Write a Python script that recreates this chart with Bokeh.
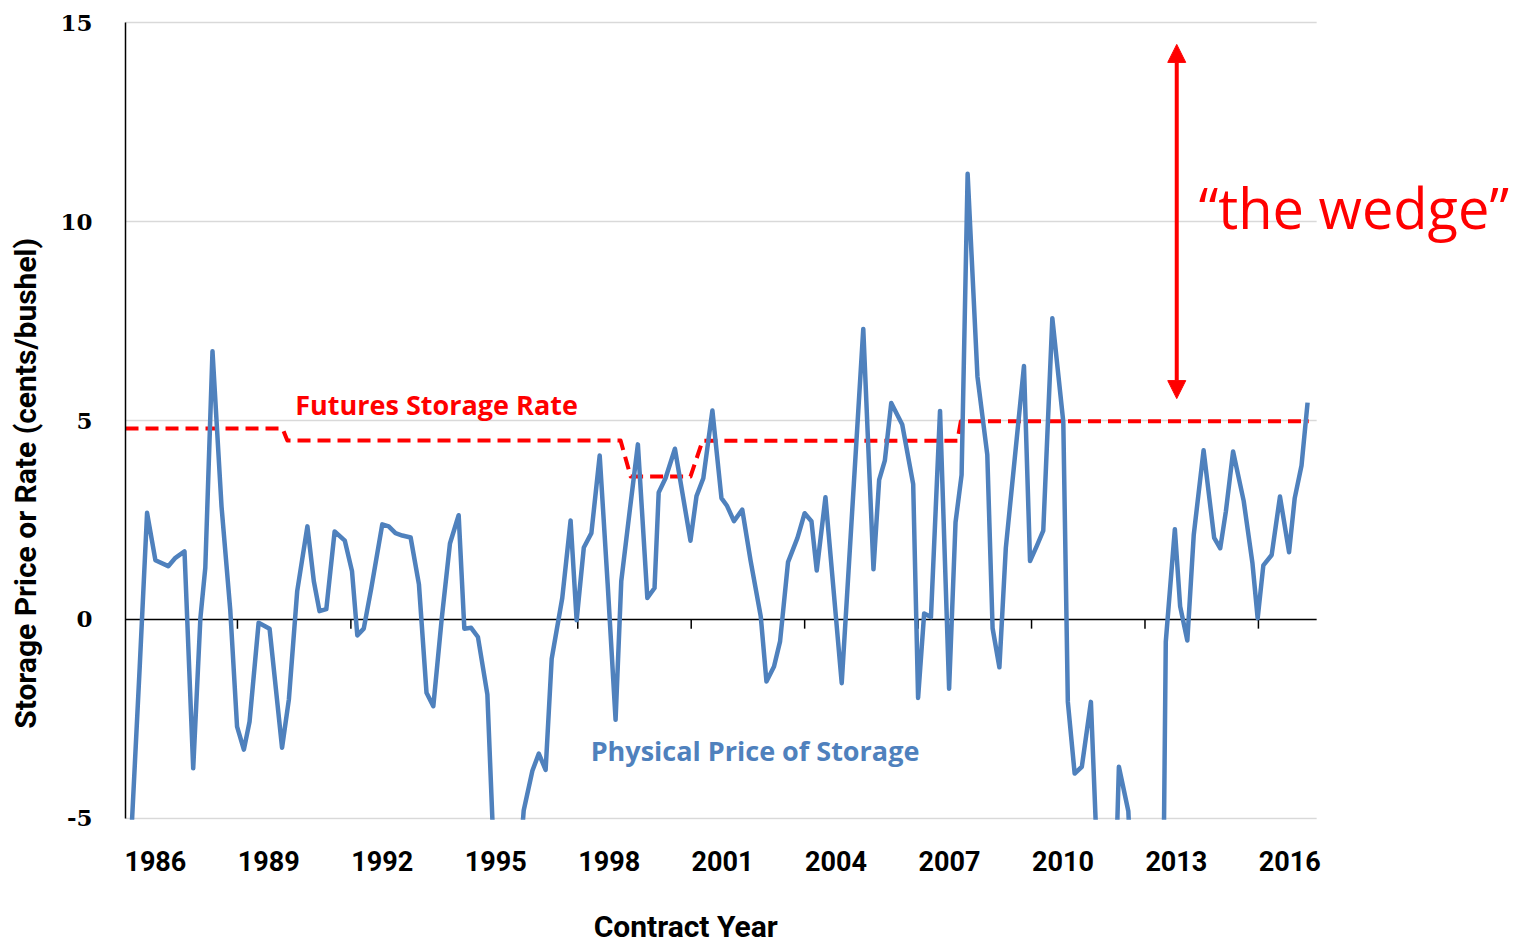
import math
from bokeh.plotting import figure
from bokeh.models import Range1d, FixedTicker, Label, Arrow, NormalHead, PrintfTickFormatter, BoxAnnotation
from bokeh.embed import file_html
from bokeh.resources import INLINE

# ---------------- data ----------------
phys_year = [1985.30, 1985.58, 1985.78, 1986.00, 1986.34, 1986.53, 1986.77, 1987.00, 1987.19, 1987.32,
             1987.51, 1987.75, 1987.98, 1988.16, 1988.34, 1988.49, 1988.73, 1989.02, 1989.35, 1989.53,
             1989.75, 1990.02, 1990.19, 1990.34, 1990.52, 1990.74, 1991.01, 1991.20, 1991.34, 1991.51,
             1991.71, 1992.00, 1992.17, 1992.35, 1992.53, 1992.75, 1992.97, 1993.17, 1993.35, 1993.57,
             1993.79, 1994.02, 1994.17, 1994.35, 1994.53, 1994.78, 1994.97, 1995.15, 1995.37, 1995.55,
             1995.74, 1995.97, 1996.14, 1996.32, 1996.48, 1996.76, 1996.98, 1997.14, 1997.33, 1997.53,
             1997.75, 1997.96, 1998.17, 1998.32, 1998.54, 1998.76, 1999.01, 1999.20, 1999.31, 1999.49,
             1999.74, 2000.15, 2000.31, 2000.49, 2000.73, 2000.97, 2001.12, 2001.30, 2001.52, 2001.74,
             2002.01, 2002.16, 2002.36, 2002.52, 2002.73, 2002.98, 2003.17, 2003.35, 2003.49, 2003.72,
             2004.15, 2004.72, 2004.99, 2005.14, 2005.29, 2005.46, 2005.75, 2006.04, 2006.17, 2006.33,
             2006.51, 2006.75, 2006.99, 2007.16, 2007.32, 2007.48, 2007.74, 2008.00, 2008.14, 2008.32,
             2008.49, 2008.97, 2009.13, 2009.31, 2009.48, 2009.72, 2010.01, 2010.13, 2010.31, 2010.50,
             2010.74, 2010.93, 2011.11, 2011.29, 2011.48, 2011.73, 2011.93, 2012.11, 2012.32, 2012.52,
             2012.72, 2012.96, 2013.10, 2013.29, 2013.46, 2013.72, 2014.00, 2014.16, 2014.31, 2014.50,
             2014.78, 2015.01, 2015.15, 2015.30, 2015.52, 2015.74, 2015.98, 2016.13, 2016.31, 2016.47]
phys_price = [-6.6, -1.3, 2.68, 1.49, 1.34, 1.55, 1.71, -3.74, 0.03, 1.30,
              6.74, 2.83, 0.24, -2.69, -3.27, -2.57, -0.08, -0.23, -3.22, -2.01,
              0.71, 2.34, 0.96, 0.21, 0.26, 2.21, 1.98, 1.21, -0.40, -0.23,
              0.79, 2.39, 2.34, 2.17, 2.11, 2.06, 0.88, -1.84, -2.18, 0.0,
              1.91, 2.62, -0.23, -0.21, -0.44, -1.89, -6.4, -8.5, -9.0, -7.2,
              -4.8, -3.80, -3.37, -3.78, -0.99, 0.54, 2.49, -0.02, 1.81, 2.17,
              4.12, 0.9, -2.52, 0.96, 2.7, 4.40, 0.54, 0.79, 3.19, 3.55,
              4.29, 1.98, 3.10, 3.55, 5.25, 3.05, 2.85, 2.47, 2.76, 1.48,
              0.07, -1.56, -1.18, -0.55, 1.44, 2.05, 2.67, 2.47, 1.23, 3.07,
              -1.60, 7.30, 1.26, 3.51, 3.99, 5.44, 4.90, 3.40, -1.97, 0.15,
              0.06, 5.24, -1.74, 2.44, 3.63, 11.2, 6.10, 4.14, -0.22, -1.20,
              1.80, 6.37, 1.47, 1.85, 2.23, 7.57, 4.96, -2.07, -3.87, -3.70,
              -2.07, -6.6, -9.0, -10.0, -3.70, -4.82, -9.0, -11.0, -12.0, -20.0,
              -0.56, 2.27, 0.33, -0.53, 2.13, 4.25, 2.05, 1.79, 2.72, 4.22,
              2.98, 1.43, 0.03, 1.36, 1.62, 3.09, 1.69, 3.05, 3.87, 5.45]

fut_year = [1985.21, 1989.36, 1989.49, 1998.30, 1998.57, 2000.15, 2000.47, 2007.21, 2007.30, 2016.50]
fut_rate = [4.80, 4.80, 4.50, 4.50, 3.59, 3.59, 4.49, 4.49, 4.98, 4.98]

year_labels = [1986, 1989, 1992, 1995, 1998, 2001, 2004, 2007, 2010, 2013, 2016]
zero_axis_ticks = [1988.17, 1991.17, 1994.17, 1997.17, 2000.17, 2003.17, 2006.17, 2009.17, 2012.17, 2015.17]
y_ticks = [-5, 0, 5, 10, 15]
grid_levels = [-5, 5, 10, 15]

BLUE = "#4F81BD"
RED = "#FF0000"
COND = "Roboto"

X0, X_PLOT_END = 1985.21, 2016.71
Y_MIN, Y_MAX = -5, 15

p = figure(width=1523, height=951, output_backend="svg", toolbar_location=None,
           x_range=Range1d(1981.904, 2022.18), y_range=Range1d(-8.342, 15.553),
           min_border_left=0, min_border_right=0, min_border_top=0, min_border_bottom=0)
p.outline_line_color = None
p.background_fill_color = "white"
p.border_fill_color = "white"
p.xgrid.visible = False
p.ygrid.visible = False

# horizontal gridlines limited to the plot area
p.segment(x0=[X0] * len(grid_levels), x1=[X_PLOT_END] * len(grid_levels), y0=grid_levels, y1=grid_levels,
          line_color="#D9D9D9", line_width=1.5)

# y axis, fixed at the start of the contract-year range
p.yaxis.fixed_location = X0
p.yaxis.ticker = FixedTicker(ticks=y_ticks)
p.yaxis.formatter = PrintfTickFormatter(format="%d")
p.yaxis.bounds = (Y_MIN, Y_MAX)
p.yaxis.axis_line_color = "black"
p.yaxis.axis_line_width = 1.5
p.yaxis.major_tick_line_color = None
p.yaxis.minor_tick_line_color = None
p.yaxis.major_label_standoff = 27
p.yaxis.major_label_text_font = "DejaVu Serif"
p.yaxis.major_label_text_font_style = "bold"
p.yaxis.major_label_text_font_size = "23px"
p.yaxis.major_label_text_color = "black"

# x axis (labels only), fixed at the bottom of the value range
p.xaxis.fixed_location = Y_MIN
p.xaxis.ticker = FixedTicker(ticks=year_labels)
p.xaxis.axis_line_color = None
p.xaxis.major_tick_line_color = None
p.xaxis.minor_tick_line_color = None
p.xaxis.major_label_standoff = 27
p.xaxis.major_label_text_font = COND
p.xaxis.major_label_text_font_style = "bold"
p.xaxis.major_label_text_font_size = "27px"
p.xaxis.major_label_text_color = "black"

# zero line with tick marks
p.segment(x0=[X0], x1=[X_PLOT_END], y0=[0], y1=[0], line_color="black", line_width=1.5)
p.segment(x0=zero_axis_ticks, x1=zero_axis_ticks, y0=[0] * len(zero_axis_ticks),
          y1=[-0.23] * len(zero_axis_ticks), line_color="black", line_width=1.5)

# series
p.line(fut_year, fut_rate, line_color=RED, line_width=4, line_dash="13 7", line_join="round")
p.line(phys_year, phys_price, line_color=BLUE, line_width=4.5, line_join="round")

# hide the part of the series below the value range (the chart clips at -5)
p.add_layout(BoxAnnotation(top=Y_MIN - 0.03, fill_color="white", fill_alpha=1.0,
                           line_color=None, level="glyph"))

# annotations
p.add_layout(Label(x=1989.70, y=5.40, text="Futures Storage Rate", text_color=RED,
                   text_font="Open Sans", text_font_style="bold", text_font_size="27px",
                   text_align="left", text_baseline="middle"))
p.add_layout(Label(x=1997.51, y=-3.29, text="Physical Price of Storage", text_color=BLUE,
                   text_font="Open Sans", text_font_style="bold", text_font_size="27px",
                   text_align="left", text_baseline="middle"))
p.add_layout(Label(x=2013.59, y=10.37, text="\u201cthe wedge\u201d", text_color=RED,
                   text_font="Open Sans", text_font_size="56px",
                   text_align="left", text_baseline="alphabetic"))
p.add_layout(Arrow(x_start=2013.01, y_start=5.55, x_end=2013.01, y_end=14.45,
                   line_color=RED, line_width=4,
                   start=NormalHead(size=18, fill_color=RED, line_color=RED),
                   end=NormalHead(size=18, fill_color=RED, line_color=RED)))
p.add_layout(Label(x=1997.59, y=-7.72, text="Contract Year", text_color="black",
                   text_font=COND, text_font_style="bold", text_font_size="30px",
                   text_align="left", text_baseline="middle"))
p.add_layout(Label(x=1982.565, y=3.42, text="Storage Price or Rate (cents/bushel)", text_color="black",
                   text_font=COND, text_font_style="bold", text_font_size="30px",
                   angle=math.pi / 2, text_align="center", text_baseline="middle"))

open("out.html", "w").write(file_html(p, INLINE))
